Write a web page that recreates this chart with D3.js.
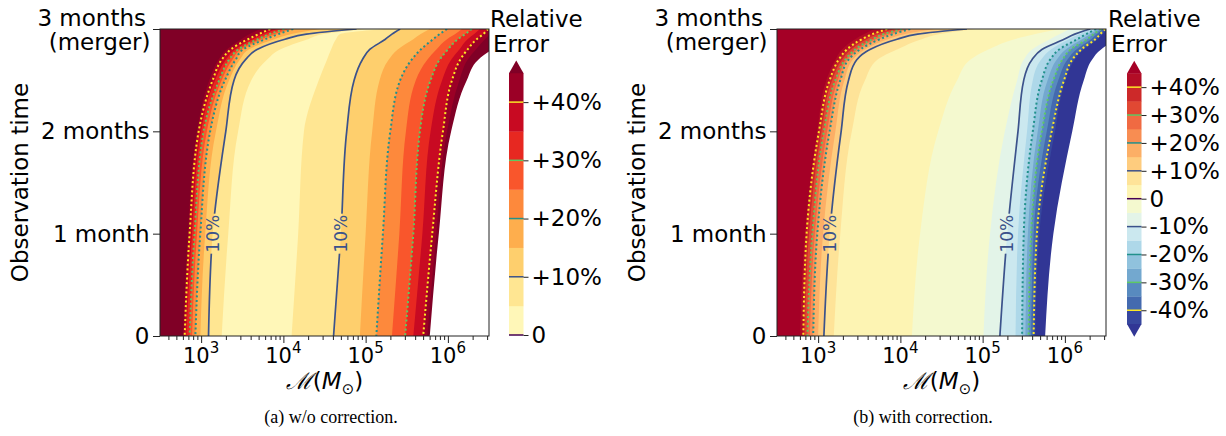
<!DOCTYPE html>
<html><head><meta charset="utf-8">
<script src="https://cdn.jsdelivr.net/npm/d3@7"></script>
<style>body{margin:0;background:#fff} text{font-family:"DejaVu Sans",sans-serif;fill:#000}</style>
</head><body>
<svg id="c" width="1226" height="436"></svg>
<script>
// ---------- data ----------
const timesMonths = [0, 1, 2, 2.5, 2.7, 2.8, 2.9, 2.95, 3];
const yTickValues = [0, 1, 2, 3];
const yTickLabels = [["0"], ["1 month"], ["2 months"], ["3 months", "(merger)"]];
const xTickExponents = [3, 4, 5, 6];
const massDomainLog = [2.5, 6.5];

// panel (a): contour boundaries left -> right (level in %), "edge" = end of data
const levelsA = [45, 40, 35, 30, 25, 20, 15, 10, 5, 5, 10, 15, 20, 25, 30, 35, 40, 45, "edge"];
// lower bound of each band, left -> right (45 = over, null = no data)
const bandsA = [45, 40, 35, 30, 25, 20, 15, 10, 5, 0, 5, 10, 15, 20, 25, 30, 35, 40, 45, null];
// log10 chirp mass of each boundary at timesMonths
const boundaryLogMassA = [
  [2.78, 2.84, 2.95, 3.10, 3.21, 3.31, 3.49, 3.59, 3.72],
  [2.80, 2.86, 2.97, 3.14, 3.25, 3.36, 3.57, 3.70, 3.84],
  [2.82, 2.89, 3.00, 3.17, 3.30, 3.41, 3.63, 3.76, 3.92],
  [2.86, 2.92, 3.03, 3.22, 3.34, 3.45, 3.69, 3.83, 4.01],
  [2.89, 2.95, 3.07, 3.25, 3.38, 3.48, 3.73, 3.89, 4.07],
  [2.93, 2.99, 3.11, 3.29, 3.42, 3.51, 3.78, 3.94, 4.12],
  [2.99, 3.05, 3.18, 3.34, 3.47, 3.58, 3.89, 4.10, 4.45],
  [3.09, 3.14, 3.30, 3.40, 3.54, 3.68, 4.02, 4.28, 4.89],
  [3.25, 3.33, 3.45, 3.61, 3.80, 3.96, 4.30, 4.49, 4.99],
  [4.10, 4.18, 4.25, 4.43, 4.53, 4.58, 4.64, 4.69, 5.24],
  [4.61, 4.70, 4.77, 4.86, 4.96, 5.05, 5.24, 5.32, 5.42],
  [4.93, 5.00, 5.08, 5.17, 5.28, 5.39, 5.58, 5.67, 5.78],
  [5.13, 5.21, 5.30, 5.42, 5.56, 5.67, 5.82, 5.90, 5.99],
  [5.32, 5.41, 5.49, 5.61, 5.75, 5.86, 5.99, 6.09, 6.17],
  [5.48, 5.58, 5.66, 5.79, 5.90, 6.00, 6.12, 6.21, 6.29],
  [5.58, 5.69, 5.79, 5.93, 6.04, 6.14, 6.24, 6.32, 6.39],
  [5.70, 5.81, 5.94, 6.05, 6.15, 6.24, 6.35, 6.43, 6.49],
  [5.75, 5.86, 5.99, 6.14, 6.24, 6.34, 6.45, 6.51, 6.57],
  [5.78, 5.89, 6.04, 6.23, 6.37, 6.54, 6.76, 7.00, 7.36]
];

// panel (b)
const levelsB = [45, 40, 35, 30, 25, 20, 15, 10, 5, 0, -5, -10, -15, -20, -25, -30, -35, -40, -45, "edge"];
const bandsB = [45, 40, 35, 30, 25, 20, 15, 10, 5, 0, -5, -10, -15, -20, -25, -30, -35, -40, -45, -50, null];
const boundaryLogMassB = [
  [2.78, 2.84, 2.99, 3.10, 3.21, 3.29, 3.45, 3.56, 3.68],
  [2.82, 2.86, 3.01, 3.14, 3.25, 3.35, 3.53, 3.66, 3.84],
  [2.84, 2.89, 3.04, 3.17, 3.29, 3.40, 3.59, 3.73, 3.93],
  [2.87, 2.93, 3.07, 3.21, 3.33, 3.45, 3.66, 3.80, 4.02],
  [2.90, 2.96, 3.11, 3.24, 3.35, 3.48, 3.70, 3.86, 4.08],
  [2.94, 2.99, 3.14, 3.27, 3.37, 3.51, 3.75, 3.91, 4.12],
  [3.00, 3.06, 3.21, 3.32, 3.42, 3.57, 3.85, 4.06, 4.42],
  [3.07, 3.14, 3.28, 3.37, 3.47, 3.63, 3.96, 4.21, 4.81],
  [3.19, 3.27, 3.41, 3.57, 3.72, 3.96, 4.26, 4.48, 4.91],
  [4.14, 4.24, 4.46, 4.69, 4.85, 5.07, 5.39, 5.64, 5.94],
  [5.01, 5.09, 5.27, 5.42, 5.50, 5.60, 5.82, 5.94, 6.06],
  [5.21, 5.30, 5.43, 5.50, 5.60, 5.72, 5.99, 6.12, 6.31],
  [5.40, 5.43, 5.54, 5.61, 5.71, 5.83, 6.05, 6.18, 6.34],
  [5.48, 5.50, 5.61, 5.72, 5.82, 5.93, 6.15, 6.26, 6.38],
  [5.52, 5.55, 5.67, 5.79, 5.90, 6.01, 6.21, 6.31, 6.41],
  [5.56, 5.59, 5.72, 5.86, 5.97, 6.07, 6.27, 6.35, 6.44],
  [5.59, 5.62, 5.78, 5.92, 6.03, 6.14, 6.32, 6.39, 6.46],
  [5.62, 5.66, 5.84, 5.99, 6.09, 6.20, 6.37, 6.43, 6.49],
  [5.64, 5.69, 5.88, 6.01, 6.12, 6.23, 6.40, 6.46, 6.52],
  [5.76, 5.86, 6.09, 6.23, 6.33, 6.44, 6.67, 6.91, 7.28]
];

const lineLevels = [10, 20, 30, 40];
const cbTicksA = [0, 10, 20, 30, 40];
const cbTicksB = [40, 30, 20, 10, 0, -10, -20, -30, -40];
const cbLinesA = [0, 10, 20, 30, 40];
const cbLinesB = [-40, -30, -20, -10, 0, 10, 20, 30, 40];
const labelTime = 1;

// ---------- drawing ----------
const svg = d3.select("#c");
const W = 329, H = 307, TOP = 29;
const FS = "23px";
const x = d3.scaleLog().domain([10 ** massDomainLog[0], 10 ** massDomainLog[1]]).range([0, W]);
const y = d3.scaleLinear().domain([0, 3]).range([H, 0]);

const colorA = lo => lo === null ? "#fff" : lo >= 45 ? d3.interpolateYlOrRd(1) : d3.interpolateYlOrRd((lo + 2.5) / 45);
const colorB = lo => lo === null ? "#fff" : lo >= 45 ? d3.interpolateRdYlBu(0) : lo <= -50 ? d3.interpolateRdYlBu(1)
  : d3.interpolateRdYlBu(1 - (lo + 2.5 + 45) / 90);
const lineColor = v => d3.interpolateViridis(Math.abs(v) / 40);

function panel(ox, levels, bands, logM, colorOf, key) {
  const g = svg.append("g").attr("transform", `translate(${ox},${TOP})`);
  const defs = g.append("defs");
  defs.append("clipPath").attr("id", "clip" + key).append("rect").attr("width", W).attr("height", H);
  const plot = g.append("g").attr("clip-path", `url(#clip${key})`);
  plot.append("rect").attr("width", W).attr("height", H).attr("fill", colorOf(bands[0]));
  const pts = row => timesMonths.map((t, i) => ({ t, L: row[i] })).reverse();
  const area = d3.area().curve(d3.curveMonotoneY).y(d => y(d.t)).x0(d => x(10 ** d.L)).x1(W + 600);
  logM.forEach((row, i) => {
    plot.append("path").attr("d", area(pts(row))).attr("fill", colorOf(bands[i + 1]));
  });
  // contour lines
  const line = d3.line().curve(d3.curveMonotoneY).x(d => x(10 ** d.L)).y(d => y(d.t));
  const li = timesMonths.indexOf(labelTime);
  const labels = [];
  levels.forEach((lv, i) => {
    if (lv !== "edge" && Math.abs(lv) === 10) labels.push({ x: x(10 ** logM[i][li]), y: y(labelTime) });
  });
  const mask = defs.append("mask").attr("id", "mask" + key).attr("maskUnits", "userSpaceOnUse")
    .attr("x", -20).attr("y", -20).attr("width", W + 40).attr("height", H + 40);
  mask.append("rect").attr("x", -20).attr("y", -20).attr("width", W + 40).attr("height", H + 40).attr("fill", "#fff");
  labels.forEach(p => mask.append("rect").attr("x", p.x - 10).attr("y", p.y - 20).attr("width", 20).attr("height", 40).attr("fill", "#000"));
  levels.forEach((lv, i) => {
    if (lv === "edge" || !lineLevels.includes(Math.abs(lv))) return;
    const solid = Math.abs(lv) === 10;
    const p = plot.append("path").attr("d", line(pts(logM[i]))).attr("fill", "none")
      .attr("stroke", lineColor(lv)).attr("stroke-width", solid ? 1.7 : 2);
    if (solid) p.attr("mask", `url(#mask${key})`);
    else p.attr("stroke-dasharray", "2 2.6");
  });
  labels.forEach(p => g.append("text").attr("transform", `translate(${p.x},${p.y}) rotate(-90)`)
    .attr("text-anchor", "middle").attr("dy", "0.36em").style("font-size", "17px").style("fill", lineColor(10)).text("10%"));
  // spines
  g.append("rect").attr("width", W).attr("height", H).attr("fill", "none").attr("stroke", "#222").attr("stroke-width", 1);
  // x axis
  const minor = [];
  for (let e = 2; e <= 6; e++) for (let k = 2; k <= 9; k++) { const v = k * 10 ** e; if (v >= 10 ** massDomainLog[0] && v <= 10 ** massDomainLog[1]) minor.push(v); }
  g.append("g").attr("transform", `translate(0,${H})`)
    .call(d3.axisBottom(x).tickValues(xTickExponents.map(e => 10 ** e)).tickSize(7).tickFormat(""));
  g.append("g").attr("transform", `translate(0,${H})`)
    .call(d3.axisBottom(x).tickValues(minor).tickSize(4).tickFormat(""));
  g.selectAll(".domain").remove();
  g.selectAll(".tick line").attr("stroke", "#222");
  xTickExponents.forEach(e => {
    const t = g.append("text").attr("x", x(10 ** e)).attr("y", H + 27).attr("text-anchor", "middle").style("font-size", "21px");
    t.append("tspan").text("10");
    t.append("tspan").attr("dy", -10).style("font-size", "15px").text(String(e));
  });
  // x label
  const xl = g.append("text").attr("x", W / 2).attr("y", H + 53).attr("text-anchor", "middle").style("font-size", FS);
  xl.append("tspan").style("font-family", "'DejaVu Serif',serif").style("font-style", "italic").text("ℳ");
  xl.append("tspan").text("(");
  xl.append("tspan").style("font-style", "italic").text("M");
  xl.append("tspan").attr("dy", 5).style("font-size", "15px").text("⊙");
  xl.append("tspan").attr("dy", -5).text(")");
  // y axis
  const ay = g.append("g").call(d3.axisLeft(y).tickValues(yTickValues).tickSize(7).tickFormat(""));
  ay.select(".domain").remove();
  ay.selectAll(".tick line").attr("stroke", "#222");
  yTickValues.forEach((v, i) => {
    const lines = yTickLabels[i];
    if (lines.length === 1) {
      g.append("text").attr("text-anchor", "end").style("font-size", FS)
        .attr("x", -10.5).attr("y", y(v)).attr("dy", "0.35em").text(lines[0]);
    } else {
      lines.forEach((s, j) => g.append("text").attr("text-anchor", "end").style("font-size", FS)
        .attr("x", j ? -9.5 : -14).attr("y", y(v) - 3 + j * 24).text(s));
    }
  });
  svg.append("text").attr("transform", `translate(${ox - 132},${TOP + H / 2}) rotate(-90)`)
    .attr("text-anchor", "middle").style("font-size", FS).text("Observation time");
}

function colorbar(cx, lo, hi, yBot, yTop, colorOf, extendMin, ticks, fmt, lines) {
  const w = 14.5, tri = 12.5;
  const g = svg.append("g");
  const s = d3.scaleLinear().domain([lo, hi]).range([yBot, yTop]);
  d3.range(lo, hi, 5).forEach(v => {
    g.append("rect").attr("x", cx).attr("y", s(v + 5)).attr("width", w).attr("height", s(v) - s(v + 5) + 0.3).attr("fill", colorOf(v));
  });
  g.append("path").attr("d", `M${cx},${yTop + 0.3}L${cx + w},${yTop + 0.3}L${cx + w / 2},${yTop - tri}Z`).attr("fill", colorOf(45));
  if (extendMin) g.append("path").attr("d", `M${cx},${yBot - 0.3}L${cx + w},${yBot - 0.3}L${cx + w / 2},${yBot + tri}Z`).attr("fill", colorOf(-50));
  lines.forEach(v => g.append("line").attr("x1", cx).attr("x2", cx + w).attr("y1", s(v)).attr("y2", s(v))
    .attr("stroke", lineColor(v)).attr("stroke-width", 1.5));
  const ax = g.append("g").attr("transform", `translate(${cx + w},0)`)
    .call(d3.axisRight(s).tickValues(ticks).tickSize(5).tickPadding(3).tickFormat(fmt));
  ax.select(".domain").remove();
  ax.selectAll(".tick line").attr("stroke", "#222");
  ax.attr("font-family", null).attr("font-size", null);
  ax.selectAll(".tick text").style("font-size", FS);
  g.append("text").style("font-size", FS).attr("x", cx - 19).attr("y", 27).text("Relative");
  g.append("text").style("font-size", FS).attr("x", cx - 16).attr("y", 52).text("Error");
}

panel(160, levelsA, bandsA, boundaryLogMassA, colorA, "a");
panel(777, levelsB, bandsB, boundaryLogMassB, colorB, "b");
colorbar(509, 0, 45, 335, 73, colorA, false, cbTicksA, v => v === 0 ? "0" : "+" + v + "%", cbLinesA);
colorbar(1127, -45, 45, 324.2, 73.2, colorB, true, cbTicksB, v => v === 0 ? "0" : v > 0 ? "+" + v + "%" : "-" + Math.abs(v) + "%", cbLinesB);

svg.append("text").attr("x", 331).attr("y", 423).attr("text-anchor", "middle")
  .style("font-family", "'Liberation Serif',serif").style("font-size", "18px").text("(a) w/o correction.");
svg.append("text").attr("x", 923).attr("y", 423).attr("text-anchor", "middle")
  .style("font-family", "'Liberation Serif',serif").style("font-size", "18px").text("(b) with correction.");
</script>
</body></html>
